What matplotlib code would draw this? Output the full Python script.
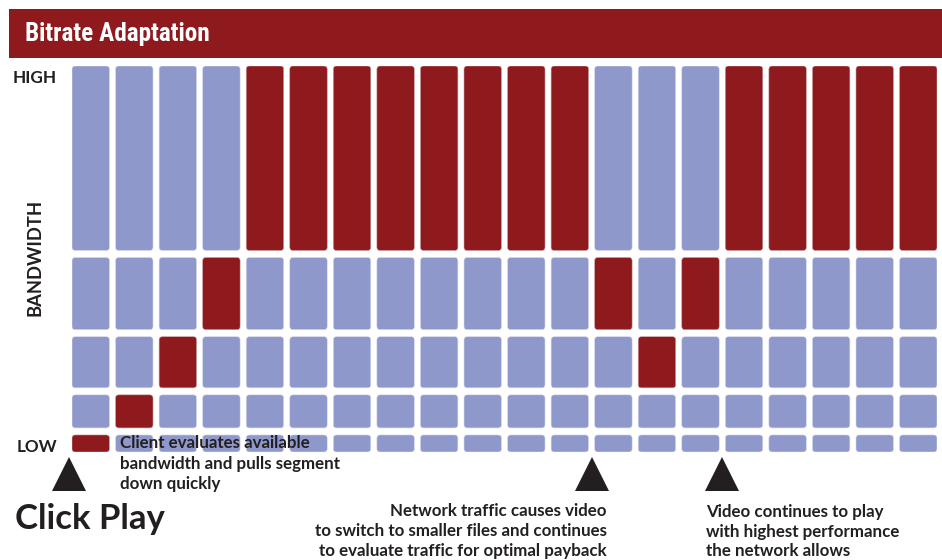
import matplotlib
matplotlib.use("Agg")
import matplotlib.pyplot as plt
from matplotlib.patches import FancyBboxPatch, Rectangle

# ---------------- data ----------------
title = "Bitrate Adaptation"
segments = list(range(20))
# bandwidth level chosen for each segment (0 = LOW ... 4 = HIGH)
chosen_level = [0, 1, 2, 3, 4, 4, 4, 4, 4, 4, 4, 4, 3, 2, 3, 4, 4, 4, 4, 4]
level_names = ["LOW", "", "", "", "HIGH"]
axis_label = "BANDWIDTH"
event_segments = [0, 12, 15]
event_big_label = "Click Play"
note_client = ["Client evaluates available", "bandwidth and pulls segment", "down quickly"]
note_network = ["Network traffic causes video",
                "to switch to smaller files and continues",
                "to evaluate traffic for optimal payback"]
note_video = ["Video continues to play", "with highest performance", "the network allows"]

# ---------------- style / layout ----------------
W, H, DPI = 942, 560, 100
RED = "#8f1a1e"
BLUE = "#8f98cb"
DARK = "#231f20"
row_heights = [17, 33, 51, 72, 184]   # pixel heights of bandwidth bands
row_gap = 7
cell_w = 0.86
FONT = ["Lato", "DejaVu Sans"]

fig = plt.figure(figsize=(W / DPI, H / DPI), dpi=DPI)
fig.patch.set_facecolor("white")

def fx(px):
    return px / W

def fy(py):
    return 1 - py / H

# grid axes: x from 72 to 937 px, y from 66 to 452 px
ax_l, ax_r, ax_t, ax_b = 72, 937, 66, 452
ax = fig.add_axes([fx(ax_l), fy(ax_b), fx(ax_r - ax_l), (ax_b - ax_t) / H])
ax.set_axis_off()
n = len(segments)
ax.set_xlim(0, (n - 1) + cell_w)
bottoms = []
b = 0
for h in row_heights:
    bottoms.append(b)
    b += h + row_gap
top = bottoms[-1] + row_heights[-1]
ax.set_ylim(0, top)
x_px_per_unit = (ax_r - ax_l) / ((n - 1) + cell_w)

for seg, lvl in zip(segments, chosen_level):
    for r, (bt, h) in enumerate(zip(bottoms, row_heights)):
        color = RED if r == lvl else BLUE
        p = FancyBboxPatch((seg, bt), cell_w, h,
                           boxstyle="round,pad=0,rounding_size=0.075",
                           mutation_aspect=x_px_per_unit,
                           facecolor=color,
                           edgecolor="#d8dbee" if color == BLUE else "#c9a0a2",
                           linewidth=0.4, zorder=2)
        ax.add_patch(p)

# event arrows below the grid
ax.plot([s - 0.07 for s in event_segments], [-21.5] * len(event_segments),
        linestyle="none", marker="^", markersize=24, color=DARK,
        markeredgewidth=0, clip_on=False, zorder=3)

# ---------------- title bar ----------------
fig.patches.append(Rectangle((fx(9), fy(58)), fx(942 - 9), (58 - 9) / H,
                             transform=fig.transFigure, facecolor=RED,
                             edgecolor="none", zorder=0))
fig.text(fx(25), fy(41), title, color="white", fontsize=18.2, fontweight="bold",
         family=["Roboto Condensed", "DejaVu Sans"], va="baseline", ha="left")

# ---------------- labels ----------------
fig.text(fx(57), fy(82.7), level_names[4], color=DARK, fontsize=12.3,
         fontweight="bold", family=FONT, ha="right", va="baseline")
fig.text(fx(57), fy(452.3), level_names[0], color=DARK, fontsize=12.3,
         fontweight="bold", family=FONT, ha="right", va="baseline")
fig.text(fx(35.5), fy(257), axis_label, color=DARK, fontsize=13.2,
         fontweight="bold", family=FONT, rotation=90, ha="center", va="center")

fig.text(fx(15), fy(529), event_big_label, color=DARK, fontsize=25,
         fontweight="bold", family=FONT, ha="left", va="baseline")

def lines(x, ys, texts, ha):
    for y, t in zip(ys, texts):
        fig.text(fx(x), fy(y), t, color=DARK, fontsize=12.2, fontweight="bold",
                 family=FONT, ha=ha, va="baseline", zorder=5)

lines(120, [448.3, 468.8, 488.8], note_client, "left")
lines(607, [516.5, 536.5, 556.3], note_network, "right")
lines(706, [516.5, 536.5, 556.3], note_video, "left")

fig.savefig("out.png", dpi=DPI, facecolor="white")
